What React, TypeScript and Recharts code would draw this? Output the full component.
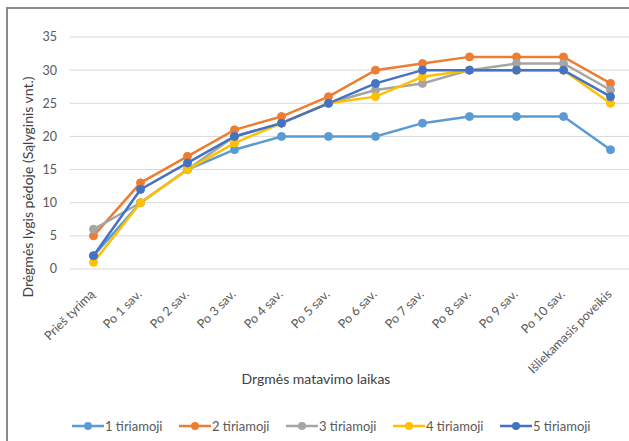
import React from "react";
import { LineChart, Line, XAxis, YAxis, CartesianGrid, Legend, Label } from "recharts";

const categories = [
  "Prieš tyrimą",
  "Po 1 sav.",
  "Po 2 sav.",
  "Po 3 sav.",
  "Po 4 sav.",
  "Po 5 sav.",
  "Po 6 sav.",
  "Po 7 sav.",
  "Po 8 sav.",
  "Po 9 sav.",
  "Po 10 sav.",
  "Išliekamasis poveikis",
];

const series1 = [2, 10, 15, 18, 20, 20, 20, 22, 23, 23, 23, 18];
const series2 = [5, 13, 17, 21, 23, 26, 30, 31, 32, 32, 32, 28];
const series3 = [6, 10, 15, 20, 22, 25, 27, 28, 30, 31, 31, 27];
const series4 = [1, 10, 15, 19, 22, 25, 26, 29, 30, 30, 30, 25];
const series5 = [2, 12, 16, 20, 22, 25, 28, 30, 30, 30, 30, 26];

const seriesNames = ["1 tiriamoji", "2 tiriamoji", "3 tiriamoji", "4 tiriamoji", "5 tiriamoji"];
const seriesColors = ["#5B9BD5", "#ED7D31", "#A5A5A5", "#FFC000", "#4472C4"];
const yTicks = [0, 5, 10, 15, 20, 25, 30, 35];

const yTitle = "Drėgmės lygis pėdoje (Sąlyginis vnt.)";
const xTitle = "Drgmės matavimo laikas";

const allSeries = [series1, series2, series3, series4, series5];
const data = categories.map((c, i) => {
  const row: Record<string, any> = { name: c };
  allSeries.forEach((s, k) => {
    row["s" + k] = s[i];
  });
  return row;
});

const FONT = 'Lato, "Liberation Sans", sans-serif';

const XTick = (props: any) => {
  const { x, y, payload } = props;
  return (
    <g transform={`translate(${x + 2},${y + 26})`}>
      <text
        x={0}
        y={0}
        textAnchor="end"
        transform="rotate(-45)"
        fontSize={12.5}
        fill="#595959"
        fontFamily={FONT}
      >
        {payload.value}
      </text>
    </g>
  );
};

const YTitle = (props: any) => {
  const vb = props.viewBox || { x: 0, y: 0, width: 0, height: 0 };
  const cx = vb.x + 27;
  const cy = vb.y + vb.height / 2 + 34;
  return (
    <text
      x={cx}
      y={cy}
      textAnchor="middle"
      dominantBaseline="central"
      transform={`rotate(-90, ${cx}, ${cy})`}
      fontSize={14}
      fill="#404040"
      fontFamily={FONT}
    >
      {yTitle}
    </text>
  );
};

const XTitle = (props: any) => {
  const vb = props.viewBox || { x: 0, y: 0, width: 0, height: 0 };
  return (
    <text
      x={vb.x + 246}
      y={vb.y + 109}
      textAnchor="middle"
      dominantBaseline="central"
      fontSize={14}
      fill="#404040"
      fontFamily={FONT}
    >
      {xTitle}
    </text>
  );
};

const LegendContent = (props: any) => {
  const payload = props.payload || [];
  return (
    <div style={{ position: "relative", width: 629, height: 20 }}>
      {payload.map((entry: any, i: number) => (
        <div
          key={i}
          style={{
            position: "absolute",
            left: 72 + 107 * i,
            top: 0,
            height: 20,
            display: "flex",
            alignItems: "center",
            whiteSpace: "nowrap",
          }}
        >
          <svg width={32} height={10} style={{ display: "block" }}>
            <line x1={0} y1={5} x2={32} y2={5} stroke={entry.color} strokeWidth={2.5} />
            <circle cx={16} cy={5} r={4} fill={entry.color} />
          </svg>
          <span
            style={{
              marginLeft: 1,
              fontSize: 13,
              color: "#595959",
              fontFamily: FONT,
            }}
          >
            {entry.value}
          </span>
        </div>
      ))}
    </div>
  );
};

export default function App() {
  return (
    <div
      style={{
        position: "fixed",
        left: 0,
        top: 0,
        width: 629,
        height: 441,
        overflow: "hidden",
        background: "#ffffff",
      }}
    >
      <div
        style={{
          position: "absolute",
          left: 6,
          top: 7,
          width: 700,
          height: 500,
          border: "2px solid #8a8a8a",
          boxSizing: "border-box",
        }}
      />
      <div style={{ position: "absolute", left: 0, top: 0 }}>
        <LineChart
          width={660}
          height={441}
          data={data}
          margin={{ top: 37, right: 26, bottom: 0, left: 0 }}
          style={{ fontFamily: FONT }}
        >
          <CartesianGrid horizontal={true} vertical={false} stroke="#d9d9d9" strokeWidth={1} />
          <XAxis
            dataKey="name"
            interval={0}
            height={172}
            padding={{ left: 23.5, right: 23.5 }}
            axisLine={false}
            tickLine={false}
            tickSize={0}
            tickMargin={0}
            tick={<XTick />}
          >
            <Label content={<XTitle />} />
          </XAxis>
          <YAxis
            width={70}
            domain={[0, 35]}
            ticks={yTicks}
            interval={0}
            axisLine={false}
            tickLine={false}
            tickSize={0}
            tickMargin={13}
            tick={{ fontSize: 12.5, fill: "#595959", fontFamily: FONT }}
          >
            <Label content={<YTitle />} />
          </YAxis>
          {allSeries.map((_, k) => (
            <Line
              key={k}
              type="linear"
              dataKey={"s" + k}
              name={seriesNames[k]}
              stroke={seriesColors[k]}
              strokeWidth={2.5}
              dot={{ r: 4, fill: seriesColors[k], stroke: seriesColors[k], strokeWidth: 1 }}
              activeDot={false}
              isAnimationActive={false}
            />
          ))}
          <Legend
            layout="horizontal"
            verticalAlign="middle"
            align="center"
            content={<LegendContent />}
            wrapperStyle={{ position: "absolute", top: 416, left: 0, width: 629, height: 20 }}
          />
        </LineChart>
      </div>
    </div>
  );
}
